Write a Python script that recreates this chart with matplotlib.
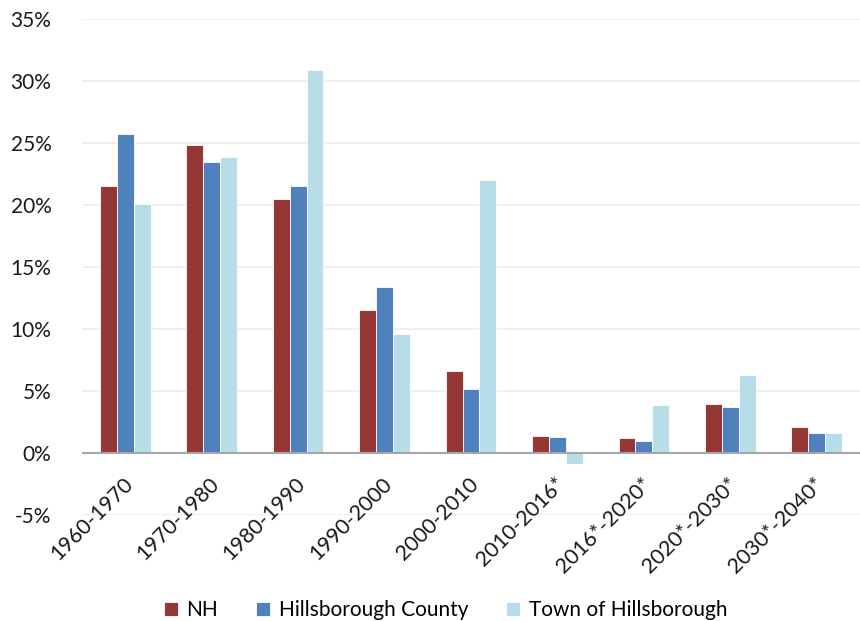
import matplotlib.pyplot as plt
import numpy as np
from matplotlib.ticker import FuncFormatter

plt.rcParams['font.family'] = ['Lato', 'DejaVu Sans']

periods = ["1960-1970", "1970-1980", "1980-1990", "1990-2000", "2000-2010",
           "2010-2016*", "2016*-2020*", "2020*-2030*", "2030*-2040*"]
nh = [21.5, 24.8, 20.5, 11.5, 6.6, 1.4, 1.2, 3.95, 2.1]
county = [25.7, 23.5, 21.5, 13.4, 5.2, 1.3, 0.97, 3.7, 1.6]
town = [20.1, 23.9, 30.9, 9.6, 22.0, -0.85, 3.9, 6.3, 1.6]

series = [("NH", nh, "#953735"),
          ("Hillsborough County", county, "#4F81BD"),
          ("Town of Hillsborough", town, "#B7DEE8")]

fig = plt.figure(figsize=(8.6, 6.21), dpi=100)
ax = fig.add_axes([82 / 860, 1 - 515 / 621, 778 / 860, 496 / 621])

x = np.arange(len(periods))
w = 0.195
for i, (name, vals, col) in enumerate(series):
    ax.bar(x + (i - 1) * w, vals, w, color=col, label=name,
           edgecolor="white", linewidth=0.6, zorder=3)

ax.set_xlim(-0.5, len(periods) - 0.5)
ax.set_ylim(-5, 35)
ax.set_yticks(np.arange(-5, 36, 5))
ax.yaxis.set_major_formatter(FuncFormatter(lambda v, p: f"{v:.0f}%"))
ax.grid(axis="y", color="#EDEDED", linewidth=1.2, zorder=0)
ax.axhline(0, color="#A6A6A6", linewidth=1.5, zorder=4)
for s in ax.spines.values():
    s.set_visible(False)
ax.tick_params(axis="both", length=0, labelsize=15, colors="#1a1a1a")
ax.tick_params(axis="y", pad=22)

# category labels hang from the zero line, not from the bottom of the axes
ax.set_xticks(x)
ax.set_xticklabels([])
for xi, lab in zip(x, periods):
    ax.annotate(lab, xy=(xi, 0), xytext=(-2, -15), textcoords="offset points",
                rotation=45, ha="right", va="top", rotation_mode="anchor",
                fontsize=15.5, color="#1a1a1a", annotation_clip=False)

ax.legend(loc="lower center", bbox_to_anchor=(0.467, -0.25), ncol=3,
          frameon=False, fontsize=15, handlelength=0.7, handleheight=0.7,
          handletextpad=0.4, columnspacing=1.8)

fig.savefig("out.png", dpi=100)
